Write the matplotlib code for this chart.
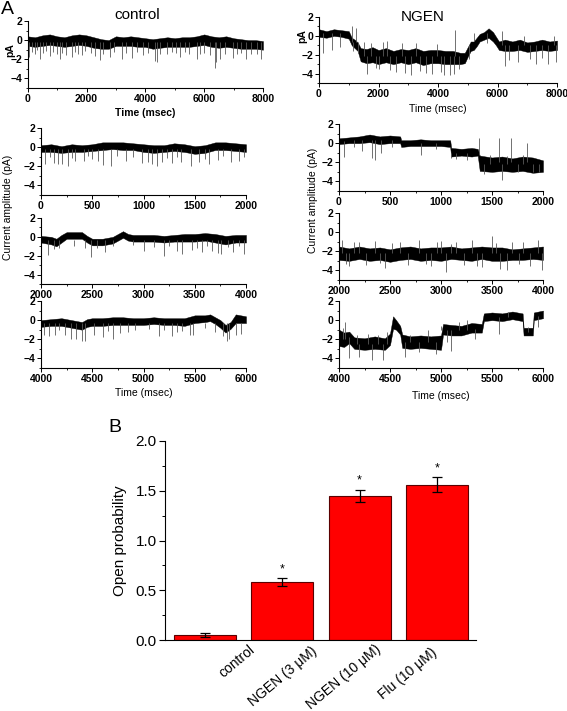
import numpy as np
import matplotlib
matplotlib.use("Agg")
import matplotlib.pyplot as plt
from matplotlib.ticker import MultipleLocator, FormatStrFormatter

plt.rcParams['font.family'] = ['Liberation Sans', 'DejaVu Sans']

# ---- panel A: single-channel traces, read off as band envelopes + spikes ----
# control, 0-8000 ms
ctl8_t = [0, 250, 500, 750, 1000, 1250, 1500, 1750, 2000, 2250, 2500, 2750, 3000, 3250, 3500, 3750, 4000,
          4250, 4500, 4750, 5000, 5250, 5500, 5750, 6000, 6250, 6500, 6750, 7000, 7250, 7500, 7750, 8000]
ctl8_hi = [0.4, 0.3, 0.5, 0.6, 0.4, 0.3, 0.5, 0.6, 0.5, 0.3, 0.1, 0.0, 0.4, 0.3, 0.4, 0.3, 0.2,
           0.1, 0.2, 0.3, 0.2, 0.3, 0.3, 0.4, 0.6, 0.4, 0.3, 0.4, 0.2, 0.1, 0.0, 0.0, -0.1]
ctl8_lo = [-0.6, -0.7, -0.6, -0.5, -0.6, -0.7, -0.6, -0.5, -0.6, -0.8, -0.9, -0.9, -0.6, -0.6, -0.6, -0.7, -0.7,
           -0.9, -0.8, -0.7, -0.7, -0.7, -0.7, -0.6, -0.5, -0.7, -0.8, -0.7, -0.8, -0.9, -0.9, -0.9, -1.0]
ctl8_sp_t = [60, 150, 250, 330, 420, 520, 610, 760, 850, 980, 1100, 1180, 1300, 1490, 1600, 1700, 1830, 1950,
             2150, 2300, 2450, 2550, 2800, 2950, 3190, 3350, 3530, 3700, 3920, 4100, 4320, 4380, 4500, 4720,
             4900, 5050, 5170, 5350, 5500, 5740, 5850, 6000, 6200, 6360, 6400, 6530, 6700, 6980, 7100, 7250,
             7430, 7600, 7800, 7940]
ctl8_sp_from = -0.2
ctl8_sp_to = [-1.8, -1.2, -1.5, -1.0, -2.0, -1.3, -1.1, -1.7, -1.2, -1.4, -2.0, -1.3, -1.6, -1.8, -1.2, -1.4,
              -1.6, -1.1, -1.3, -1.7, -2.1, -1.4, -1.8, -1.2, -2.0, -1.3, -1.9, -1.2, -1.6, -1.3, -2.2, -2.3,
              -1.4, -1.5, -1.2, -1.3, -1.8, -1.2, -1.4, -2.0, -1.5, -1.3, -1.6, -2.9, -2.3, -2.0, -1.5, -1.9,
              -1.4, -1.3, -2.0, -1.5, -1.4, -2.0]

# NGEN, 0-8000 ms
ngen8_t = [0, 250, 500, 750, 1000, 1100, 1200, 1300, 1400, 1600, 1800, 2000, 2250, 2500, 2750, 3000, 3250,
           3500, 3750, 4000, 4250, 4500, 4750, 4900, 5000, 5100, 5200, 5300, 5400, 5550, 5700, 5850, 5950,
           6050, 6250, 6500, 6750, 7000, 7250, 7500, 7750, 8000]
ngen8_hi = [0.7, 0.5, 0.7, 0.6, 0.5, -0.2, -0.4, -0.7, -1.3, -1.4, -1.2, -1.5, -1.3, -1.6, -1.4, -1.5, -1.3,
            -1.6, -1.5, -1.5, -1.6, -1.6, -1.8, -1.8, -1.2, -0.6, -0.6, -0.2, 0.2, 0.4, 0.8, 0.4, -0.1,
            -0.6, -0.4, -0.6, -0.4, -0.7, -0.6, -0.4, -0.6, -0.5]
ngen8_lo = [-0.1, -0.2, 0.0, -0.1, -0.3, -1.0, -1.3, -1.6, -2.7, -2.9, -2.8, -3.0, -2.8, -3.0, -2.8, -3.0, -2.8,
            -3.1, -2.9, -2.9, -3.0, -3.0, -3.0, -2.9, -2.2, -1.6, -1.5, -1.1, -0.6, -0.4, -0.2, -0.6, -1.0,
            -1.5, -1.6, -1.6, -1.5, -1.7, -1.6, -1.5, -1.6, -1.5]
ngen8_sp_t = [150, 450, 700, 1100, 1150, 1250, 1300, 1500, 1600, 1750, 1900, 2000, 2150, 2300, 2400, 2600,
              2800, 2900, 3100, 3250, 3400, 3600, 3800, 3950, 4100, 4200, 4400, 4550, 4560, 4700, 5050, 5200,
              5650, 6150, 6250, 6400, 6700, 6900, 7100, 7300, 7500, 7700, 7900, 7950]
ngen8_sp_from = [0.3] * 3 + [-0.6] * 4 + [-2.1] * 23 + [-1.0, -0.5, 0.3] + [-1.0] * 11
ngen8_sp_to = [-1.8, -1.5, -1.2, 1.0, -1.6, 0.8, -1.8, -0.6, -4.0, -0.8, -3.4, -3.5, -0.7, -0.5, -3.6, -3.8,
               -0.8, -3.9, -4.2, -0.8, -3.7, -3.9, -4.0, -0.9, -3.8, -4.2, -4.2, -4.0, 0.6, -3.5, -2.5, 0.3,
               -0.8, 0.5, -3.2, -2.6, -2.8, 0.0, -2.5, -3.0, -2.4, -3.0, 0.0, -2.8]

# control, expanded segments
ctl2a_t = [0, 100, 200, 300, 400, 500, 600, 700, 800, 900, 1000, 1100, 1200, 1300, 1400, 1500, 1600, 1700,
           1800, 1900, 2000]
ctl2a_hi = [0.2, 0.3, 0.1, 0.3, 0.2, 0.3, 0.5, 0.5, 0.5, 0.4, 0.3, 0.2, 0.2, 0.4, 0.3, 0.1, 0.2, 0.5, 0.5, 0.4, 0.3]
ctl2a_lo = [-0.5, -0.5, -0.6, -0.5, -0.5, -0.4, -0.3, -0.2, -0.3, -0.3, -0.5, -0.6, -0.5, -0.4, -0.5, -0.7,
            -0.6, -0.3, -0.3, -0.4, -0.5]
ctl2a_sp_t = [40, 130, 170, 205, 265, 330, 420, 560, 600, 680, 830, 985, 1040, 1080, 1130, 1180, 1280, 1370,
              1460, 1540, 1640, 1730, 1850, 1930, 90, 300, 460, 500, 740, 900, 1230, 1330, 1600, 1780, 1980]
ctl2a_sp_from = -0.2
ctl2a_sp_to = [-1.8, -1.7, -1.8, -1.8, -2.0, -1.5, -1.4, -1.5, -1.9, -2.0, -1.5, -1.7, -1.6, -1.8, -2.0, -1.6,
               -1.7, -1.6, -2.0, -1.6, -1.8, -1.3, -1.6, -1.5, -1.0, -1.1, -0.9, -1.2, -0.9, -1.0, -1.1, -1.0,
               -1.2, -0.9, -1.0]

ctl2b_t = [2000, 2100, 2150, 2200, 2250, 2400, 2450, 2500, 2600, 2700, 2800, 2850, 2900, 3000, 3100, 3200,
           3300, 3400, 3500, 3600, 3700, 3800, 3900, 4000]
ctl2b_hi = [0.1, 0.0, -0.2, 0.2, 0.5, 0.5, 0.1, -0.2, -0.2, 0.0, 0.6, 0.3, 0.2, 0.2, 0.2, 0.1, 0.2, 0.3, 0.3,
            0.4, 0.3, 0.1, 0.2, 0.2]
ctl2b_lo = [-0.6, -0.8, -1.0, -0.6, -0.2, -0.2, -0.6, -0.9, -0.9, -0.7, -0.1, -0.4, -0.5, -0.5, -0.5, -0.6,
            -0.5, -0.5, -0.5, -0.4, -0.6, -0.8, -0.6, -0.6]
ctl2b_sp_t = [2070, 2130, 2180, 2320, 2430, 2490, 2620, 3000, 3200, 3330, 3380, 3470, 3570, 3670, 3730, 3760,
              3870, 3980, 2550, 2700, 2900, 3100, 3250, 3520, 3620, 3820, 3930]
ctl2b_sp_from = -0.3
ctl2b_sp_to = [-1.9, -1.3, -1.2, -1.0, -1.2, -2.1, -1.6, -1.5, -2.0, -1.5, -1.8, -1.4, -1.6, -1.5, -1.7, -1.8,
               -1.6, -1.8, -1.2, -1.0, -0.9, -1.1, -1.0, -1.2, -1.0, -1.1, -1.0]

ctl2c_t = [4000, 4100, 4200, 4300, 4400, 4450, 4500, 4600, 4700, 4800, 4900, 5000, 5100, 5200, 5300, 5400,
           5500, 5600, 5650, 5700, 5750, 5800, 5850, 5900, 6000]
ctl2c_hi = [0.0, 0.1, 0.2, 0.0, -0.2, 0.1, 0.2, 0.2, 0.3, 0.3, 0.2, 0.2, 0.3, 0.2, 0.2, 0.2, 0.5, 0.5, 0.6,
            0.3, 0.0, -0.5, -0.2, 0.6, 0.4]
ctl2c_lo = [-0.7, -0.6, -0.6, -0.8, -1.0, -0.7, -0.6, -0.6, -0.5, -0.5, -0.5, -0.5, -0.4, -0.5, -0.5, -0.6,
            -0.3, -0.2, -0.1, -0.4, -0.8, -1.3, -0.9, -0.3, -0.3]
ctl2c_sp_t = [4030, 4080, 4140, 4230, 4290, 4340, 4400, 4430, 4520, 4600, 4700, 4770, 4850, 4920, 5150, 5280,
              5330, 5450, 5480, 5780, 5810, 5830, 5900, 5950, 4180, 4650, 5050, 5200, 5380, 5600, 5700]
ctl2c_sp_from = -0.3
ctl2c_sp_to = [-1.5, -1.7, -1.5, -1.6, -2.0, -2.0, -2.2, -2.2, -1.6, -1.8, -2.0, -1.3, -1.2, -1.0, -1.7, -1.7,
               -1.2, -1.5, -1.6, -1.7, -2.2, -2.0, -1.5, -1.4, -1.0, -1.1, -0.9, -1.0, -1.1, -0.8, -1.2]

# NGEN, expanded segments
ngen2a_t = [0, 100, 200, 300, 400, 500, 600, 610, 700, 800, 900, 1000, 1090, 1100, 1200, 1300, 1360, 1380,
            1500, 1600, 1700, 1800, 1900, 2000]
ngen2a_hi = [0.5, 0.6, 0.7, 0.9, 0.7, 0.8, 0.7, 0.3, 0.3, 0.4, 0.3, 0.3, 0.3, -0.5, -0.6, -0.5, -0.6, -1.3,
             -1.5, -1.4, -1.6, -1.4, -1.5, -1.8]
ngen2a_lo = [-0.1, 0.0, 0.0, 0.1, -0.1, 0.0, 0.0, -0.4, -0.3, -0.3, -0.3, -0.3, -0.4, -1.4, -1.3, -1.4, -1.3,
             -2.9, -3.0, -2.9, -3.0, -2.9, -3.1, -3.0]
ngen2a_sp_t = [50, 150, 230, 320, 350, 410, 520, 800, 950, 1100, 1150, 1250, 1370, 1420, 1480, 1570, 1600,
               1650, 1690, 1750, 1800, 1840, 1900, 1960]
ngen2a_sp_from = [0.2, 0.3, 0.3, 0.3, 0.3, 0.3, 0.3, 0.0, 0.0, -1.0, -1.0, -1.0, -1.2, -2.2, -2.2, -2.0, -2.2,
                  -2.2, -2.0, -2.2, -2.2, -2.0, -2.2, -2.2]
ngen2a_sp_to = [-1.5, -0.4, -0.8, -1.6, -1.8, -1.0, -0.4, -1.2, -0.6, -1.6, -1.7, -1.8, 0.5, -3.2, -1.2, 0.5,
                -3.9, -1.3, 0.5, -3.0, -1.2, 0.0, -3.0, -3.0]

ngen2b_t = [2000, 2100, 2200, 2300, 2400, 2500, 2600, 2700, 2800, 2900, 3000, 3100, 3200, 3300, 3400, 3500,
            3600, 3700, 3800, 3900, 4000]
ngen2b_hi = [-1.5, -1.7, -1.5, -1.7, -1.6, -1.8, -1.6, -1.5, -1.7, -1.6, -1.6, -1.5, -1.7, -1.6, -1.5, -1.6,
             -1.6, -1.8, -1.7, -1.6, -1.5]
ngen2b_lo = [-2.9, -3.0, -2.8, -3.0, -2.9, -3.1, -2.9, -2.8, -3.0, -2.9, -3.0, -2.8, -2.9, -3.0, -2.8, -3.0,
             -3.0, -2.9, -2.9, -2.8, -2.9]
ngen2b_sp_t = [2030, 2070, 2100, 2150, 2200, 2260, 2350, 2400, 2450, 2520, 2600, 2680, 2780, 2850, 2900, 2960,
               3000, 3050, 3100, 3150, 3230, 3300, 3350, 3400, 3500, 3540, 3580, 3650, 3700, 3760, 3800, 3870,
               3950, 3990]
ngen2b_sp_from = -2.2
ngen2b_sp_to = [-0.8, -3.3, -3.5, -1.0, -1.0, -3.4, -0.9, -3.2, -3.7, -1.1, -1.0, -3.4, -0.8, -3.3, -3.5, -1.0,
                -0.9, -4.2, -1.2, -1.0, -3.4, -0.8, -3.5, -3.6, -0.4, -1.1, -3.8, -4.0, -1.0, -3.3, -1.0, -3.5,
                -0.8, -4.0]

ngen2c_t = [4000, 4050, 4100, 4150, 4250, 4350, 4450, 4500, 4530, 4560, 4600, 4620, 4700, 4800, 4900, 5000,
            5020, 5100, 5200, 5300, 5400, 5420, 5500, 5600, 5700, 5800, 5810, 5900, 5910, 6000]
ngen2c_hi = [-1.0, -1.3, -1.2, -1.8, -1.9, -1.7, -1.9, -1.4, 0.4, 0.0, -0.6, -1.5, -1.7, -1.6, -1.7, -1.6,
             -0.4, -0.5, -0.6, -0.3, -0.4, 0.7, 0.8, 0.7, 0.9, 0.7, -0.8, -0.8, 0.8, 1.0]
ngen2c_lo = [-2.7, -2.8, -2.4, -3.0, -3.1, -3.0, -3.1, -2.6, -0.9, -1.0, -1.5, -2.9, -3.0, -2.9, -3.0, -3.1,
             -1.5, -1.6, -1.6, -1.3, -1.3, -0.1, 0.0, -0.1, 0.1, -0.1, -1.6, -1.6, 0.0, 0.2]
ngen2c_sp_t = [4040, 4060, 4100, 4180, 4200, 4280, 4320, 4380, 4430, 4470, 4650, 4700, 4780, 4870, 4950, 5000,
               5060, 5100, 5180, 5250, 5330, 5570, 5660, 5850, 5950]
ngen2c_sp_from = [-2.0, -2.0, -1.8, -2.5, -2.5, -2.5, -2.5, -2.5, -2.5, -2.5, -2.3, -2.3, -2.3, -2.3, -2.3,
                  -1.0, -1.0, -1.0, -1.0, -1.0, -0.9, 0.3, 0.3, -1.2, 0.4]
ngen2c_sp_to = [-0.8, -0.2, -4.0, -1.5, -3.8, -1.4, -4.2, -1.6, -4.2, -1.2, -3.8, -1.6, -3.3, -1.0, -3.5,
                -0.6, -2.3, -3.2, -0.2, 0.0, -2.0, -1.4, 0.9, -0.7, -0.7]

# ---- panel B: open probability ----
groups = ['control', 'NGEN (3 μM)', 'NGEN (10 μM)', 'Flu (10 μM)']
po_mean = [0.05, 0.58, 1.45, 1.56]
po_err = [0.02, 0.04, 0.06, 0.075]
po_sig = ['', '*', '*', '*']

W, H = 567, 711
fig = plt.figure(figsize=(W / 100, H / 100), dpi=100)


def px_axes(x0, x1, ytop, ybot):
    return fig.add_axes([x0 / W, 1 - ybot / H, (x1 - x0) / W, (ybot - ytop) / H])


def px_text(x, y, s, **kw):
    return fig.text(x / W, 1 - y / H, s, **kw)


def trace(ax, t, hi, lo, sp_t, sp_from, sp_to, xlim, major, minor):
    ax.vlines(sp_t, sp_from, sp_to, color='0.35', lw=0.6)
    ax.fill_between(t, lo, hi, color='black', lw=0.3)
    ax.set_xlim(*xlim)
    ax.set_ylim(-5, 2)
    ax.spines[['top', 'right']].set_visible(False)
    for s in ax.spines.values():
        s.set_linewidth(0.8)
    ax.xaxis.set_major_locator(MultipleLocator(major))
    ax.xaxis.set_minor_locator(MultipleLocator(minor))
    ax.set_yticks([2, 0, -2, -4])
    ax.yaxis.set_minor_locator(MultipleLocator(1))
    ax.tick_params(which='major', length=3, width=0.7, labelsize=7.5, pad=1)
    ax.tick_params(which='minor', length=1.5, width=0.6)
    for lab in ax.get_xticklabels() + ax.get_yticklabels():
        lab.set_fontweight('bold')


# top row
ax = px_axes(27.7, 263, 21, 88)
trace(ax, ctl8_t, ctl8_hi, ctl8_lo, ctl8_sp_t, ctl8_sp_from, ctl8_sp_to, (0, 8000), 2000, 1000)
ax.set_xlabel('Time (msec)', fontsize=7.5, fontweight='bold', labelpad=3)

ax = px_axes(319, 557, 17, 83)
trace(ax, ngen8_t, ngen8_hi, ngen8_lo, ngen8_sp_t, ngen8_sp_from, ngen8_sp_to, (0, 8000), 2000, 1000)
ax.set_xlabel('Time (msec)', fontsize=7.5, labelpad=4)

px_text(10, 50, 'pA', rotation=90, fontsize=7.5, fontweight='bold', ha='center', va='center')
px_text(302, 36, 'pA', rotation=90, fontsize=7.5, fontweight='bold', ha='center', va='center')

# expanded segments
left_rows = [(128, 195), (218, 284), (301, 368)]
right_rows = [(124, 191), (213, 280), (301, 368)]
ctl_sets = [
    (ctl2a_t, ctl2a_hi, ctl2a_lo, ctl2a_sp_t, ctl2a_sp_from, ctl2a_sp_to, (0, 2000)),
    (ctl2b_t, ctl2b_hi, ctl2b_lo, ctl2b_sp_t, ctl2b_sp_from, ctl2b_sp_to, (2000, 4000)),
    (ctl2c_t, ctl2c_hi, ctl2c_lo, ctl2c_sp_t, ctl2c_sp_from, ctl2c_sp_to, (4000, 6000)),
]
ngen_sets = [
    (ngen2a_t, ngen2a_hi, ngen2a_lo, ngen2a_sp_t, ngen2a_sp_from, ngen2a_sp_to, (0, 2000)),
    (ngen2b_t, ngen2b_hi, ngen2b_lo, ngen2b_sp_t, ngen2b_sp_from, ngen2b_sp_to, (2000, 4000)),
    (ngen2c_t, ngen2c_hi, ngen2c_lo, ngen2c_sp_t, ngen2c_sp_from, ngen2c_sp_to, (4000, 6000)),
]
for (yt, yb), d in zip(left_rows, ctl_sets):
    ax = px_axes(41, 246, yt, yb)
    trace(ax, *d, 500, 250)
ax.set_xlabel('Time (msec)', fontsize=7.5, labelpad=3)
for (yt, yb), d in zip(right_rows, ngen_sets):
    ax = px_axes(339, 543, yt, yb)
    trace(ax, *d, 500, 250)
ax.set_xlabel('Time (msec)', fontsize=7.5, labelpad=5)

px_text(8, 207, 'Current amplitude (pA)', rotation=90, fontsize=7.5, ha='center', va='center')
px_text(313, 200, 'Current amplitude (pA)', rotation=90, fontsize=7.5, ha='center', va='center')
px_text(137, 15, 'control', fontsize=11, ha='center', va='center')
px_text(423, 17, 'NGEN', fontsize=11, ha='center', va='center')
px_text(1, 9, 'A', fontsize=14, ha='left', va='center')
px_text(115, 428, 'B', fontsize=14, ha='center', va='center')

# ---- panel B ----
axb = px_axes(165, 476, 441, 640)
xb = np.arange(len(groups))
axb.bar(xb, po_mean, width=0.8, color='#ff0000', edgecolor='#5a0000', lw=0.8)
axb.errorbar(xb, po_mean, yerr=po_err, fmt='none', ecolor='black', elinewidth=0.9, capsize=3.5, capthick=0.9)
for x, m, e, s in zip(xb, po_mean, po_err, po_sig):
    axb.text(x, m + e + 0.03, s, ha='center', va='bottom', fontsize=9)
axb.set_xlim(-0.51, 3.5)
axb.set_ylim(0, 2.0)
axb.spines[['top', 'right']].set_visible(False)
axb.yaxis.set_major_locator(MultipleLocator(0.5))
axb.yaxis.set_minor_locator(MultipleLocator(0.25))
axb.yaxis.set_major_formatter(FormatStrFormatter('%.1f'))
axb.tick_params(axis='y', which='major', length=4, width=0.8, labelsize=11, pad=2)
axb.tick_params(axis='y', which='minor', length=2, width=0.7)
axb.set_xticks([])
axb.set_ylabel('Open probability', fontsize=11, labelpad=6)

# rotated category labels, right ends as placed in the figure
label_ends = [(248, 643), (311, 644), (375, 642), (431, 645)]
for (lx, ly), g in zip(label_ends, groups):
    px_text(lx, ly, g, rotation=40, rotation_mode='anchor', ha='right', va='top', fontsize=10)

fig.savefig('out.png', dpi=100)
